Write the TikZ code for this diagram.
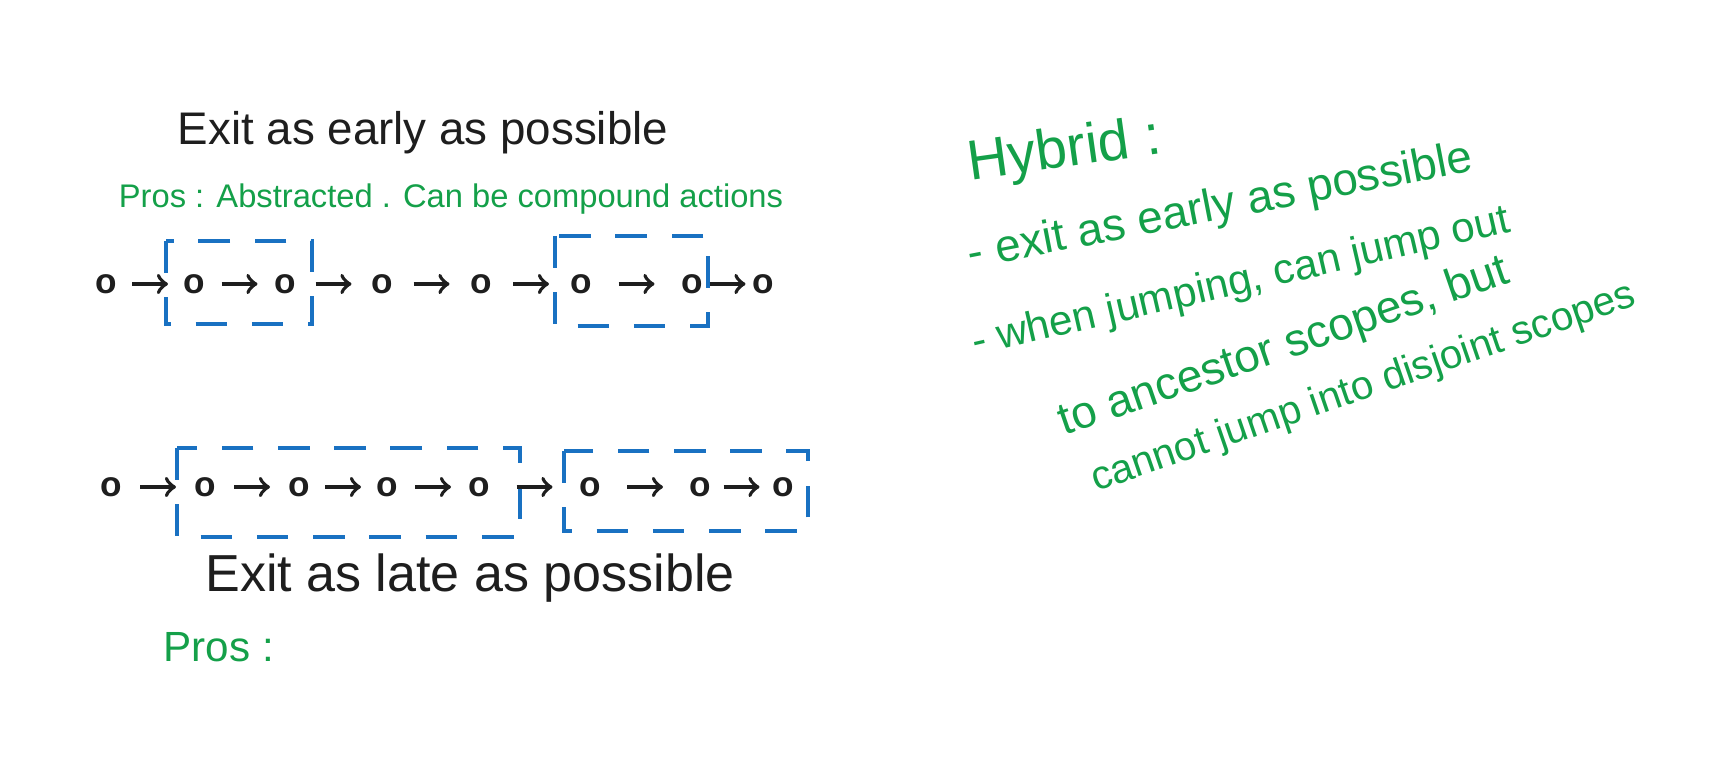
\documentclass[tikz,border=0pt]{standalone}
\usepackage{fontspec}
\setmainfont{Liberation Sans}
\usetikzlibrary{calc}
\definecolor{inkblack}{HTML}{1E1E1E}
\definecolor{inkgreen}{HTML}{14A049}
\definecolor{inkblue}{HTML}{1971C2}
\tikzset{
  opnode/.style={inner sep=1pt, font=\fontsize{10}{10}\selectfont\bfseries, text=inkblack},
  go/.style={->, draw=inkblack, line width=1.1pt},
  scopebox/.style={draw=inkblue, line width=1.1pt, dash pattern=on 9pt off 7pt},
  note/.style={anchor=west, inner sep=0pt, text=inkgreen, font=\fontsize{13}{13}\selectfont},
}

\begin{document}
\begin{tikzpicture}[x=0.01cm, y=-0.01cm]
  \useasboundingbox (0,0) rectangle (1735,765);

  % exit as early as possible
  \node[text=inkblack, font=\fontsize{13}{13}\selectfont] (earlytitle) at (423,133) {Exit as early as possible};
  \node[text=inkgreen, font=\fontsize{9.3}{9.3}\selectfont] (earlypros) at (451,199) {Pros : Abstracted . Can be compound actions};
  \draw[scopebox] (166,241) rectangle (312,324);
  \draw[scopebox] (555,236) rectangle (708,326);
  \foreach \i/\x in {1/106,2/194,3/285,4/382,5/481,6/581,7/692,8/763}
    \node[opnode] (e\i) at (\x,284) {o};
  \foreach \i [count=\j from 2] in {1,...,7}
    \draw[go] ($(e\i)!0.5!(e\j)+(-18,0)$) -- ($(e\i)!0.5!(e\j)+(18,0)$);

  % exit as late as possible
  \draw[scopebox] (177,448) rectangle (520,537);
  \draw[scopebox] (564,451) rectangle (808,531);
  \foreach \i/\x in {1/111,2/205,3/299,4/387,5/479,6/590,7/700,8/783}
    \node[opnode] (l\i) at (\x,487) {o};
  \foreach \i [count=\j from 2] in {1,...,7}
    \draw[go] ($(l\i)!0.5!(l\j)+(-18,0)$) -- ($(l\i)!0.5!(l\j)+(18,0)$);
  \node[text=inkblack, font=\fontsize{14.8}{14.8}\selectfont] (latetitle) at (470,578) {Exit as late as possible};
  \node[note, font=\fontsize{12}{12}\selectfont] (latepros) at (163,647) {Pros :};

  % hybrid
  \node[note, rotate=8, font=\fontsize{16}{16}\selectfont] (hybrid) at (968,166) {Hybrid :};
  \node[note, rotate=11] (hybearly) at (968,257) {- exit as early as possible};
  \node[note, rotate=13, font=\fontsize{12}{12}\selectfont] (hybjump) at (972,345) {- when jumping, can jump out};
  \node[note, rotate=19] (hybscope) at (1060,425) {to ancestor scopes, but};
  \node[note, rotate=19, font=\fontsize{11.5}{11.5}\selectfont] (hybnot) at (1092,482) {cannot jump into disjoint scopes};
\end{tikzpicture}
\end{document}
